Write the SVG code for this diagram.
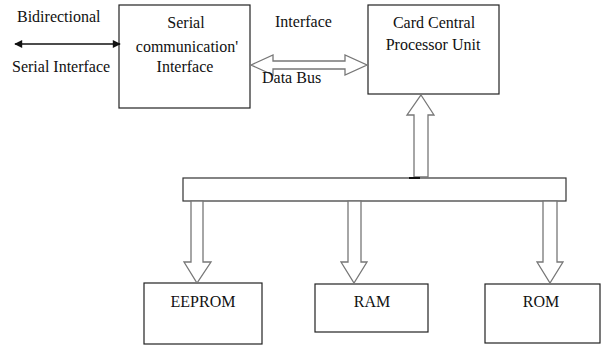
<svg xmlns="http://www.w3.org/2000/svg" width="601" height="345" viewBox="0 0 601 345">
  <defs>
    <marker id="solidHead" viewBox="0 0 10 10" refX="9" refY="5" markerWidth="10" markerHeight="8" markerUnits="userSpaceOnUse" orient="auto-start-reverse">
      <path d="M0,0 L10,5 L0,10 Z" fill="#111"/>
    </marker>
  </defs>
  <style>
    .box { fill: #fff; stroke: #222; stroke-width: 1.2; }
    .bus { fill: #fff; stroke: #333; stroke-width: 1.2; }
    .hollow { fill: #fff; stroke: #777; stroke-width: 1.3; stroke-linejoin: miter; }
    .lbl { font-family: "Liberation Serif", "Times New Roman", serif; font-size: 16px; fill: #111; }
    .mid { text-anchor: middle; }
  </style>
  <rect width="601" height="345" fill="#fff"/>

  <!-- nodes -->
  <g id="sci">
    <rect class="box" x="119" y="5" width="131" height="103"/>
    <text class="lbl mid" x="186" y="28">Serial</text>
    <text class="lbl mid" x="187" y="52">communication'</text>
    <text class="lbl mid" x="185" y="72">Interface</text>
  </g>
  <g id="cpu">
    <rect class="box" x="368" y="5" width="131" height="89"/>
    <text class="lbl mid" x="434" y="28">Card Central</text>
    <text class="lbl mid" x="433" y="50">Processor Unit</text>
  </g>
  <g id="internal-bus">
    <rect class="bus" x="183" y="178" width="383" height="23"/>
  </g>
  <g id="eeprom">
    <rect class="box" x="144" y="283" width="118" height="61"/>
    <text class="lbl mid" x="203" y="307">EEPROM</text>
  </g>
  <g id="ram">
    <rect class="box" x="315" y="284" width="113" height="48"/>
    <text class="lbl mid" x="372" y="307">RAM</text>
  </g>
  <g id="rom">
    <rect class="box" x="485" y="284" width="115" height="59"/>
    <text class="lbl mid" x="541" y="307">ROM</text>
  </g>

  <!-- connectors -->
  <g id="connectors">
    <line x1="15" y1="44" x2="120" y2="44" stroke="#111" stroke-width="1.5" marker-start="url(#solidHead)" marker-end="url(#solidHead)"/>
    <text class="lbl" x="17" y="22">Bidirectional</text>
    <text class="lbl" x="12" y="72">Serial Interface</text>

    <!-- data bus between SCI and CPU -->
    <path class="hollow" d="M251,65 L273,55 L273,61 L345,61 L345,55 L367,65 L345,75 L345,69 L273,69 L273,75 Z"/>
    <text class="lbl" x="275" y="27">Interface</text>
    <text class="lbl" x="262" y="83">Data Bus</text>

    <!-- bus up to CPU -->
    <path class="hollow" d="M421,95 L434,115 L428,115 L428,177 L414,177 L414,115 L407,115 Z"/>
    <line x1="409" y1="178" x2="420" y2="178" stroke="#111" stroke-width="2"/>

    <!-- bus down to memories -->
    <path class="hollow" d="M191,201 L203,201 L203,262 L211,262 L197,283 L184,262 L191,262 Z"/>
    <path class="hollow" d="M348,201 L361,201 L361,262 L367,262 L354,283 L341,262 L348,262 Z"/>
    <path class="hollow" d="M543,201 L557,201 L557,262 L563,262 L550,283 L537,262 L543,262 Z"/>
  </g>
</svg>
